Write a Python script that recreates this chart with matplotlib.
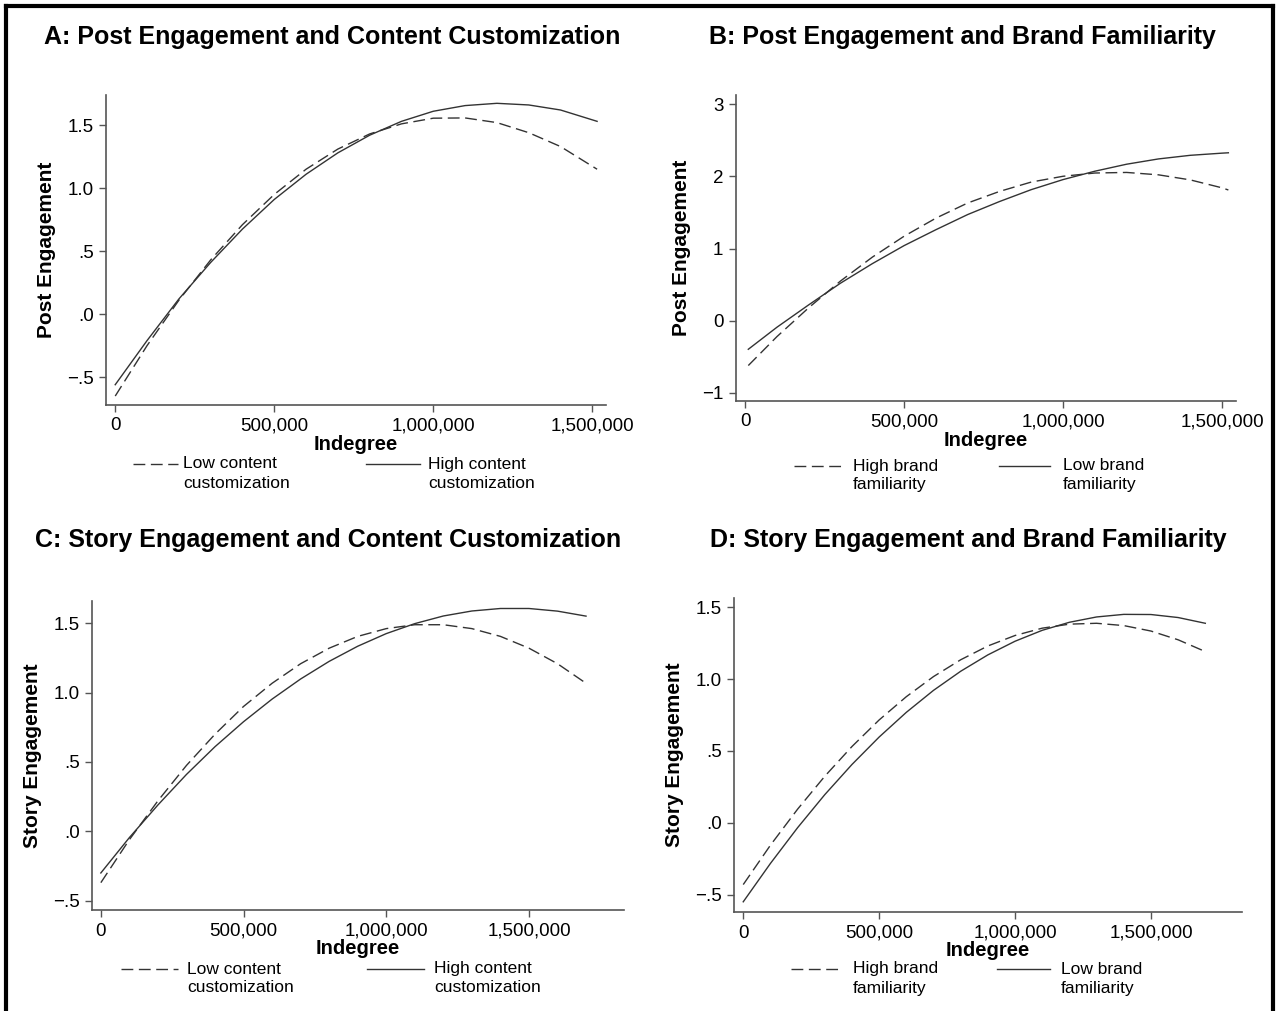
import matplotlib
matplotlib.use("Agg")
import matplotlib.pyplot as plt
from matplotlib.lines import Line2D
from matplotlib.ticker import FuncFormatter

plt.rcParams['font.family'] = ['Liberation Sans', 'DejaVu Sans']

# ---------------- data ----------------
# panel A: post engagement x content customization
A_x = [0, 100000, 200000, 300000, 400000, 500000, 600000, 700000, 800000,
       900000, 1000000, 1100000, 1200000, 1300000, 1400000, 1515000]
A_low = [-0.65, -0.25, 0.11, 0.43, 0.71, 0.95, 1.15, 1.31, 1.43, 1.51, 1.555,
         1.557, 1.52, 1.44, 1.33, 1.15]
A_high = [-0.56, -0.21, 0.12, 0.41, 0.675, 0.91, 1.11, 1.28, 1.42, 1.53, 1.61,
          1.655, 1.673, 1.66, 1.62, 1.53]

# panel B: post engagement x brand familiarity
B_x = [10000, 100000, 200000, 300000, 400000, 500000, 600000, 700000, 800000,
       900000, 1000000, 1100000, 1200000, 1300000, 1400000, 1500000, 1520000]
B_high = [-0.62, -0.22, 0.18, 0.55, 0.88, 1.17, 1.42, 1.63, 1.79, 1.92, 2.0,
          2.045, 2.053, 2.02, 1.95, 1.84, 1.81]
B_low = [-0.395, -0.09, 0.22, 0.52, 0.79, 1.04, 1.26, 1.47, 1.65, 1.815, 1.954,
         2.07, 2.167, 2.24, 2.29, 2.32, 2.325]

# panel C: story engagement x content customization
C_x = [0, 100000, 200000, 300000, 400000, 500000, 600000, 700000, 800000,
       900000, 1000000, 1100000, 1200000, 1300000, 1400000, 1500000, 1600000,
       1700000]
C_low = [-0.37, -0.06, 0.22, 0.475, 0.70, 0.90, 1.067, 1.208, 1.32, 1.405,
         1.461, 1.489, 1.489, 1.461, 1.405, 1.32, 1.208, 1.067]
C_high = [-0.30, -0.045, 0.19, 0.41, 0.61, 0.79, 0.953, 1.098, 1.225, 1.334,
          1.425, 1.497, 1.552, 1.588, 1.606, 1.606, 1.587, 1.551]

# panel D: story engagement x brand familiarity
D_x = C_x
D_high = [-0.43, -0.156, 0.095, 0.324, 0.531, 0.716, 0.878, 1.018, 1.135,
          1.231, 1.304, 1.355, 1.383, 1.389, 1.373, 1.335, 1.274, 1.192]
D_low = [-0.55, -0.283, -0.034, 0.196, 0.406, 0.597, 0.769, 0.922, 1.055,
         1.169, 1.264, 1.34, 1.396, 1.433, 1.451, 1.45, 1.429, 1.389]

x_ticks = [0, 500000, 1000000, 1500000]
yt_story = [-0.5, 0.0, 0.5, 1.0, 1.5]
yt_story_lab = ['\u2212.5', '.0', '.5', '1.0', '1.5']
yt_B = [-1, 0, 1, 2, 3]
yt_B_lab = ['\u22121', '0', '1', '2', '3']

# ---------------- figure ----------------
W, H = 1277, 1011
fig = plt.figure(figsize=(W / 100, H / 100), dpi=100)
LC = '#333333'
SPC = '#555555'


def fx(px):
    return px / W


def fy(py):
    return 1 - py / H


def panel(box, x, y_dash, y_solid, xlim, ylim, yticks, ylabs, title, ylabel,
          lab_dash, lab_solid, title_xy, leg):
    l, t, r, b = box
    ax = fig.add_axes([fx(l), fy(b), fx(r - l), (b - t) / H])
    ax.plot(x, y_dash, color=LC, lw=1.0, dashes=(8.5, 4))
    ax.plot(x, y_solid, color=LC, lw=1.0)
    ax.set_xlim(xlim)
    ax.set_ylim(ylim)
    ax.set_xticks(x_ticks)
    ax.xaxis.set_major_formatter(FuncFormatter(lambda v, p: f'{int(v):,}'))
    ax.set_yticks(yticks)
    ax.set_yticklabels(ylabs)
    for s in ['top', 'right']:
        ax.spines[s].set_visible(False)
    for s in ['left', 'bottom']:
        ax.spines[s].set_color(SPC)
        ax.spines[s].set_linewidth(1.2)
    ax.tick_params(direction='out', length=5, width=1, color=SPC,
                   labelsize=13.5, pad=4)
    ax.set_xlabel('Indegree', fontsize=14.5, fontweight='bold', labelpad=0)
    ax.set_ylabel(ylabel, fontsize=15, fontweight='bold', labelpad=8)
    # panel title
    fig.text(fx(title_xy[0]), fy(title_xy[1]), title, fontsize=18,
             fontweight='bold', ha='center', va='center')
    # legend drawn by hand: sample line + two line text
    x0, x1, tx, x2, x3, tx2, ly = leg
    fig.add_artist(Line2D([fx(x0), fx(x1)], [fy(ly), fy(ly)], color=LC,
                          lw=1.0, dashes=(8.5, 4)))
    fig.add_artist(Line2D([fx(x2), fx(x3)], [fy(ly), fy(ly)], color=LC,
                          lw=1.0))
    for k, txt in enumerate(lab_dash.split('\n')):
        fig.text(fx(tx), fy(ly + 19 * k), txt, fontsize=12.5, va='center')
    for k, txt in enumerate(lab_solid.split('\n')):
        fig.text(fx(tx2), fy(ly + 19 * k), txt, fontsize=12.5, va='center')
    return ax


panel((106, 95, 606, 405), A_x, A_low, A_high, (-29000, 1543000),
      (-0.721, 1.739), yt_story, yt_story_lab,
      'A: Post Engagement and Content Customization', 'Post Engagement',
      'Low content\ncustomization', 'High content\ncustomization', (332, 37),
      (133, 178, 183, 366, 420, 428, 464))

panel((736, 95, 1236, 401), B_x, B_high, B_low, (-28700, 1544000),
      (-1.111, 3.125), yt_B, yt_B_lab,
      'B: Post Engagement and Brand Familiarity', 'Post Engagement',
      'High brand\nfamiliarity', 'Low brand\nfamiliarity', (962, 37),
      (794, 844, 853, 999, 1050, 1063, 466))

panel((92, 601, 624, 910), C_x, C_low, C_high, (-31000, 1833000),
      (-0.567, 1.66), yt_story, yt_story_lab,
      'C: Story Engagement and Content Customization', 'Story Engagement',
      'Low content\ncustomization', 'High content\ncustomization', (328, 540),
      (121, 178, 187, 367, 424, 434, 969))

panel((734, 598, 1242, 912), D_x, D_high, D_low, (-34000, 1835000),
      (-0.621, 1.565), yt_story, yt_story_lab,
      'D: Story Engagement and Brand Familiarity', 'Story Engagement',
      'High brand\nfamiliarity', 'Low brand\nfamiliarity', (968, 540),
      (791, 843, 853, 997, 1050, 1061, 969))

# outer frame (left, top, right)
fr = dict(color='black', lw=3)
fig.add_artist(Line2D([fx(6), fx(6)], [0, fy(6)], **fr))
fig.add_artist(Line2D([fx(6), fx(1273)], [fy(6), fy(6)], **fr))
fig.add_artist(Line2D([fx(1273), fx(1273)], [fy(6), 0], **fr))

fig.savefig('out.png', dpi=100)
